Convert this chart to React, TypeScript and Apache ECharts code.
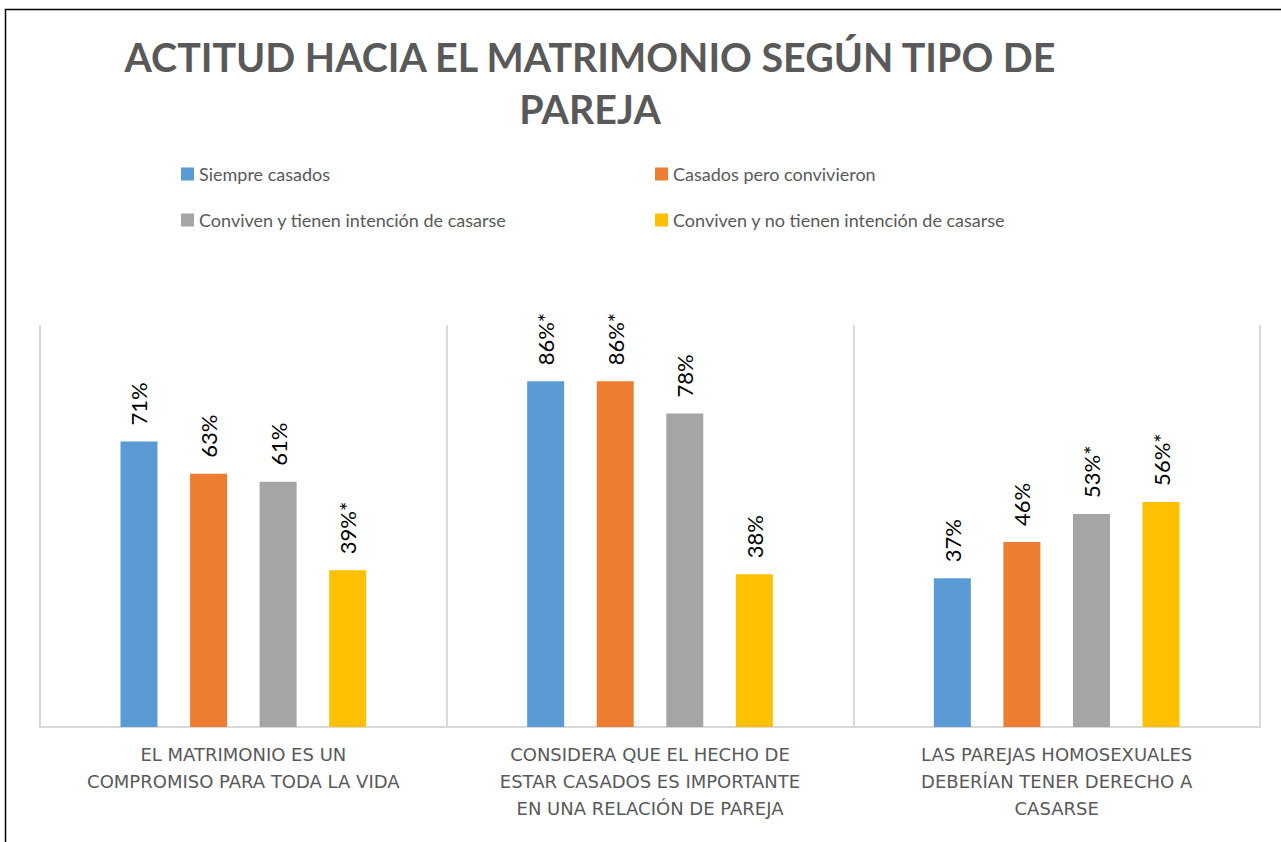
import React, { useEffect, useRef } from "react";
import * as echarts from "echarts";

const titleText = "ACTITUD HACIA EL MATRIMONIO SEGÚN TIPO DE\nPAREJA";
const categories = [
  "EL MATRIMONIO ES UN\nCOMPROMISO PARA TODA LA VIDA",
  "CONSIDERA QUE EL HECHO DE\nESTAR CASADOS ES IMPORTANTE\nEN UNA RELACIÓN DE PAREJA",
  "LAS PAREJAS HOMOSEXUALES\nDEBERÍAN TENER DERECHO A\nCASARSE",
];
const seriesNames = [
  "Siempre casados",
  "Casados pero convivieron",
  "Conviven y tienen intención de casarse",
  "Conviven y no tienen intención de casarse",
];
const siempreCasados = [71, 86, 37];
const casadosConvivieron = [63, 86, 46];
const convivenConIntencion = [61, 78, 53];
const convivenSinIntencion = [39, 38, 56];
const seriesValues = [siempreCasados, casadosConvivieron, convivenConIntencion, convivenSinIntencion];
// asterisk marks (significance) per series, per category
const siempreStars = [false, true, false];
const casadosStars = [false, true, false];
const conIntencionStars = [false, false, true];
const sinIntencionStars = [true, false, true];
const seriesStars = [siempreStars, casadosStars, conIntencionStars, sinIntencionStars];
const colors = ["#5B9BD5", "#ED7D31", "#A5A5A5", "#FFC000"];

export default function App() {
  const ref = useRef<HTMLDivElement>(null);
  useEffect(() => {
    if (!ref.current) return;
    const chart = echarts.init(ref.current, null, { renderer: "svg" });
    const legendText = { color: "#595959", fontSize: 18, fontFamily: "Lato", lineHeight: 24 };
    chart.setOption({
      animation: false,
      backgroundColor: "#ffffff",
      title: {
        text: titleText,
        left: 585,
        textAlign: "center",
        top: 25,
        textStyle: {
          color: "#595959",
          fontSize: 39.4,
          fontWeight: "bold",
          fontFamily: "Lato",
          lineHeight: 52,
        },
      },
      graphic: [
        {
          type: "rect",
          shape: { x: 5.5, y: 9.5, width: 1400, height: 1000 },
          style: { fill: "none", stroke: "#000", lineWidth: 1.5 },
          silent: true,
        },
      ],
      legend: [
        {
          data: [seriesNames[0], seriesNames[2]],
          orient: "vertical",
          left: 176,
          top: 157,
          itemWidth: 13,
          itemHeight: 13,
          itemGap: 22,
          icon: "rect",
          textStyle: legendText,
        },
        {
          data: [seriesNames[1], seriesNames[3]],
          orient: "vertical",
          left: 650,
          top: 157,
          itemWidth: 13,
          itemHeight: 13,
          itemGap: 22,
          icon: "rect",
          textStyle: legendText,
        },
      ],
      grid: { left: 40, right: 21, top: 325, bottom: 115 },
      xAxis: {
        type: "category",
        data: categories,
        axisLine: { show: true, lineStyle: { color: "#d9d9d9", width: 2 } },
        axisTick: { show: false },
        splitLine: { show: true, lineStyle: { color: "#d9d9d9", width: 2 } },
        axisLabel: {
          interval: 0,
          margin: 14,
          color: "#595959",
          fontSize: 18,
          fontFamily: "DejaVu Sans",
          lineHeight: 27,
        },
      },
      yAxis: {
        type: "value",
        min: 0,
        max: 100,
        show: false,
        splitLine: { show: false },
      },
      series: seriesNames.map((name, s) => ({
        name,
        type: "bar",
        data: seriesValues[s],
        barWidth: 37,
        barGap: "88%",
        itemStyle: { color: colors[s] },
        label: {
          show: true,
          position: "top",
          rotate: 90,
          align: "left",
          verticalAlign: "middle",
          distance: 16,
          color: "#000",
          fontSize: 22,
          fontFamily: "Lato",
          formatter: (p: any) => `${p.value}%${seriesStars[s][p.dataIndex] ? "*" : ""}`,
        },
      })),
    });
    return () => chart.dispose();
  }, []);
  return (
    <div
      ref={ref}
      style={{ position: "fixed", left: 0, top: 0, width: 1281, height: 842 }}
    />
  );
}
